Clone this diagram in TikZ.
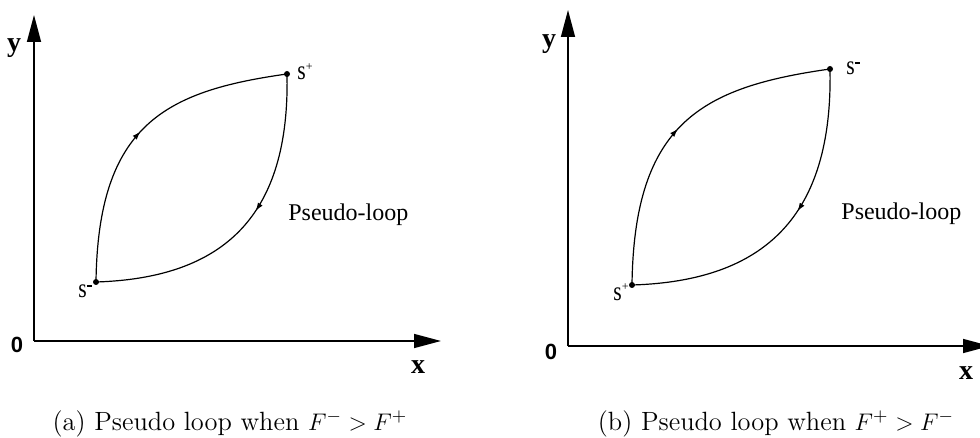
\documentclass[tikz,border=0pt]{standalone}
\usepackage{fontspec}
\newfontfamily\tnr{Liberation Serif}
\newfontfamily\arl{Liberation Sans}
\usetikzlibrary{arrows.meta,decorations.markings}
\newcommand{\splus}{\scalebox{0.8}[1]{s}\raisebox{4.8pt}{\fontsize{6}{6}\selectfont +}}
\newcommand{\sminus}{\scalebox{0.8}[1]{s}\raisebox{5.6pt}{\rule{2.8pt}{1.1pt}}}
\begin{document}
\begin{tikzpicture}[x=0.5pt,y=-0.5pt,
  axis/.style={line width=0.75pt,-{Triangle[length=13.5pt,width=7pt]}},
  loopcurve/.style={line width=0.6pt},
  midarrow/.style={postaction={decorate},decoration={markings,mark=at position #1 with {\arrow{Latex[length=4.2pt,width=2.8pt]}}}},
  midarrow/.default=0.5,
  axlab/.style={inner sep=0pt,font=\tnr\bfseries\fontsize{14}{14}\selectfont},
  zerolab/.style={inner sep=0pt,font=\arl\bfseries\fontsize{11}{11}\selectfont},
  ptlab/.style={inner sep=0pt,anchor=base west,font=\tnr\fontsize{13.5}{14}\selectfont},
  looplab/.style={inner sep=0pt,anchor=base west,font=\tnr\fontsize{12}{14}\selectfont},
  caplab/.style={inner sep=0pt,anchor=base,font=\fontsize{13.2}{16}\selectfont}]
\useasboundingbox (0,0) rectangle (980,438);
% ---------- panel (a)
\coordinate (oa) at (34,341);
\coordinate (ya) at (34,15);
\coordinate (xa) at (441,341);
\draw[axis] (oa) -- (ya);
\draw[axis] (oa) -- (xa);
\node[axlab] (ylaba) at (14,48) {y};
\node[zerolab] (zeroa) at (17,345) {0};
\node[axlab] (xlaba) at (418,367) {x};
\coordinate (sma) at (96,282);
\coordinate (spa) at (287,74);
\draw[loopcurve,midarrow=0.5] (sma) .. controls (98,125) and (165,91) .. (spa);
\draw[loopcurve,midarrow=0.44] (spa) .. controls (290,215) and (225,278) .. (sma);
\fill (sma) circle (1.5pt);
\fill (spa) circle (1.5pt);
\node[ptlab] (lspa) at (297,80) {\splus};
\node[ptlab] (lsma) at (78,298) {\sminus};
\node[looplab] (loopa) at (288,221) {Pseudo-loop};
\node[caplab] (capa) at (230,430) {(a) Pseudo loop when $F^- > F^+$};
% ---------- panel (b)
\coordinate (ob) at (568,346);
\coordinate (yb) at (568,10);
\coordinate (xb) at (990,346);
\draw[axis] (ob) -- (yb);
\draw[axis] (ob) -- (xb);
\node[axlab] (ylabb) at (549,44) {y};
\node[zerolab] (zerob) at (551,352) {0};
\node[axlab] (xlabb) at (966,373) {x};
\coordinate (spb) at (632,285);
\coordinate (smb) at (830,69);
\draw[loopcurve,midarrow=0.5] (spb) .. controls (634,122) and (703,87) .. (smb);
\draw[loopcurve,midarrow=0.44] (smb) .. controls (833,215) and (766,281) .. (spb);
\fill (spb) circle (1.5pt);
\fill (smb) circle (1.5pt);
\node[ptlab] (lsmb) at (846,75) {\sminus};
\node[ptlab] (lspb) at (613,300) {\splus};
\node[looplab] (loopb) at (841,220) {Pseudo-loop};
\node[caplab] (capb) at (776,430) {(b) Pseudo loop when $F^+ > F^-$};
\end{tikzpicture}
\end{document}
